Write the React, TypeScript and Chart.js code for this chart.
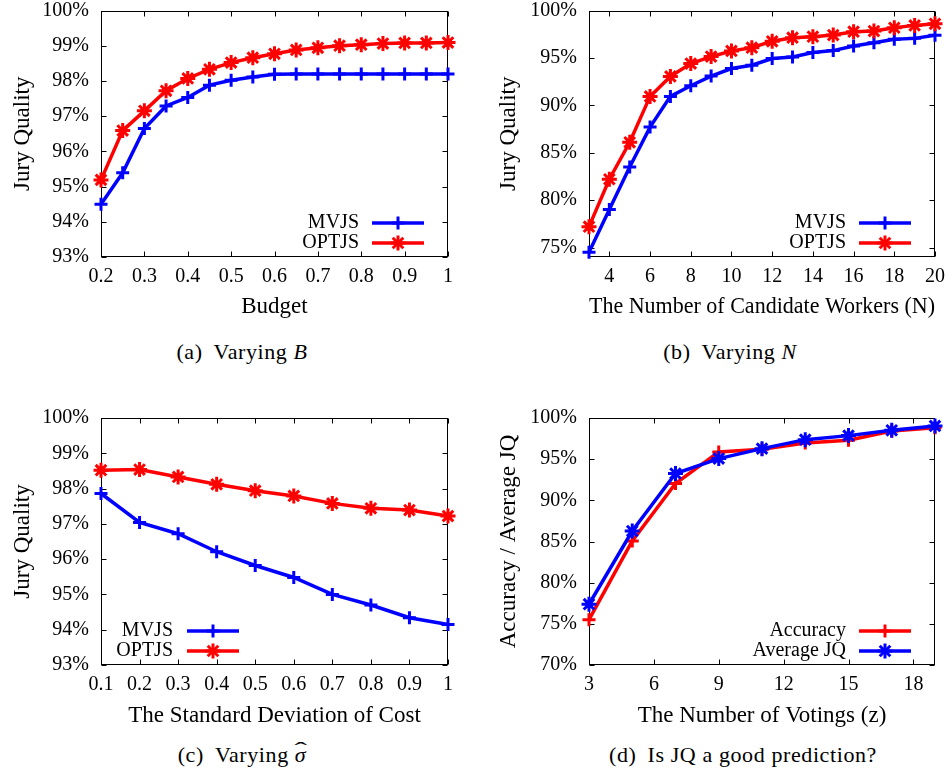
import React, { useEffect, useRef } from 'react';
import { Chart, registerables } from 'chart.js';

Chart.register(...registerables);

// (a) Jury quality against budget
const budgetLevels = [0.2, 0.25, 0.3, 0.35, 0.4, 0.45, 0.5, 0.55, 0.6, 0.65, 0.7, 0.75, 0.8, 0.85, 0.9, 0.95, 1];
const mvjsByBudget = [94.5, 95.39, 96.65, 97.29, 97.53, 97.88, 98.02, 98.11, 98.19, 98.2, 98.2, 98.2, 98.2, 98.2, 98.2, 98.2, 98.2];
const optjsByBudget = [95.19, 96.59, 97.15, 97.72, 98.07, 98.33, 98.52, 98.66, 98.77, 98.88, 98.94, 99.0, 99.03, 99.06, 99.08, 99.08, 99.09];
const budgetTicks = [0.2, 0.3, 0.4, 0.5, 0.6, 0.7, 0.8, 0.9, 1];
const narrowQualityTicks = [93, 94, 95, 96, 97, 98, 99, 100];

// (b) Jury quality against the number of candidate workers
const workerCounts = [3, 4, 5, 6, 7, 8, 9, 10, 11, 12, 13, 14, 15, 16, 17, 18, 19, 20];
const mvjsByWorkers = [74.5, 79.0, 83.5, 87.7, 90.94, 92.06, 93.08, 93.88, 94.23, 94.93, 95.1, 95.56, 95.77, 96.26, 96.6, 96.96, 97.06, 97.38];
const optjsByWorkers = [77.2, 82.2, 86.1, 90.94, 93.04, 94.4, 95.14, 95.73, 96.08, 96.75, 97.13, 97.24, 97.41, 97.76, 97.83, 98.18, 98.43, 98.6];
const workerTicks = [4, 6, 8, 10, 12, 14, 16, 18, 20];
const wideQualityTicks = [75, 80, 85, 90, 95, 100];

// (c) Jury quality against the standard deviation of cost
const costDeviations = [0.1, 0.2, 0.3, 0.4, 0.5, 0.6, 0.7, 0.8, 0.9, 1];
const mvjsByDeviation = [97.86, 97.04, 96.72, 96.21, 95.82, 95.48, 95.0, 94.7, 94.34, 94.15];
const optjsByDeviation = [98.52, 98.54, 98.33, 98.12, 97.94, 97.79, 97.58, 97.44, 97.39, 97.22];
const deviationTicks = [0.1, 0.2, 0.3, 0.4, 0.5, 0.6, 0.7, 0.8, 0.9, 1];

// (d) Accuracy and average JQ against the number of votings
const votingCounts = [3, 5, 7, 9, 11, 13, 15, 17, 19];
const accuracyByVotings = [75.5, 85.06, 92.04, 95.88, 96.2, 96.97, 97.29, 98.42, 98.83];
const averageJqByVotings = [77.38, 86.27, 93.26, 95.07, 96.28, 97.37, 97.86, 98.5, 99.03];
const votingTicks = [3, 6, 9, 12, 15, 18];
const accuracyTicks = [70, 75, 80, 85, 90, 95, 100];

const SERIF = '"Liberation Serif", "Times New Roman", serif';
const BLUE = '#0000ff';
const RED = '#ff0000';

type Marker = 'cross' | 'star';
type Series = { label: string; xs: number[]; ys: number[]; color: string; marker: Marker };
type PanelSpec = {
  left: number;
  top: number;
  width: number;
  height: number;
  area: { left: number; top: number; right: number; bottom: number };
  xMin: number;
  xMax: number;
  xTicks: number[];
  yMin: number;
  yMax: number;
  yTicks: number[];
  xTitle: string;
  yTitle: string;
  xTitlePad: number;
  yTitlePad: number;
  keySide: 'left' | 'right';
  series: Series[];
};

function strokeLine(ctx: CanvasRenderingContext2D, x0: number, y0: number, x1: number, y1: number) {
  ctx.beginPath();
  ctx.moveTo(x0, y0);
  ctx.lineTo(x1, y1);
  ctx.stroke();
}

function drawMarker(ctx: CanvasRenderingContext2D, marker: Marker, cx: number, cy: number, r: number) {
  strokeLine(ctx, cx - r, cy, cx + r, cy);
  strokeLine(ctx, cx, cy - r, cx, cy + r);
  if (marker === 'star') {
    const d = r * Math.SQRT1_2;
    strokeLine(ctx, cx - d, cy - d, cx + d, cy + d);
    strokeLine(ctx, cx - d, cy + d, cx + d, cy - d);
  }
}

// Plot frame with inward tick marks on all four sides
const framePlugin = {
  id: 'plotFrame',
  beforeDatasetsDraw(chart: any) {
    const { ctx, chartArea: a, scales } = chart;
    const L = Math.round(a.left) + 0.5;
    const R = Math.round(a.right) - 0.5;
    const T = Math.round(a.top) + 0.5;
    const B = Math.round(a.bottom) - 0.5;
    const len = 5;
    ctx.save();
    ctx.strokeStyle = '#000';
    ctx.lineWidth = 1;
    ctx.strokeRect(L, T, R - L, B - T);
    for (const t of scales.x.ticks) {
      const px = Math.round(scales.x.getPixelForValue(t.value)) + 0.5;
      strokeLine(ctx, px, B, px, B - len);
      strokeLine(ctx, px, T, px, T + len);
    }
    for (const t of scales.y.ticks) {
      const py = Math.round(scales.y.getPixelForValue(t.value)) + 0.5;
      strokeLine(ctx, L, py, L + len, py);
      strokeLine(ctx, R, py, R - len, py);
    }
    ctx.restore();
  },
};

// Key inside the plot: label text followed by a line sample with its marker
const keyPlugin = {
  id: 'seriesKey',
  afterDraw(chart: any, _args: any, opts: any) {
    const { ctx, chartArea: a } = chart;
    const side = opts.side || 'right';
    const textX = side === 'right' ? a.right - 89 : a.left + 72;
    const x0 = side === 'right' ? a.right - 76 : a.left + 86;
    const x1 = x0 + 52;
    ctx.save();
    chart.data.datasets.forEach((ds: any, i: number) => {
      const y = a.bottom - 34 + i * 20;
      ctx.font = `20px ${SERIF}`;
      ctx.fillStyle = '#000';
      ctx.textAlign = 'right';
      ctx.textBaseline = 'middle';
      ctx.fillText(ds.label, textX, y);
      ctx.strokeStyle = ds.borderColor;
      ctx.lineWidth = 3.5;
      strokeLine(ctx, x0, y, x1, y);
      ctx.lineWidth = ds.pointBorderWidth;
      drawMarker(ctx, ds.pointStyle, (x0 + x1) / 2, y, ds.pointRadius);
    });
    ctx.restore();
  },
};

function formatNumber(v: number) {
  return String(Math.round(v * 100) / 100);
}

function Panel({ spec }: { spec: PanelSpec }) {
  const ref = useRef<HTMLCanvasElement | null>(null);

  useEffect(() => {
    if (!ref.current) return;
    const { area, width, height } = spec;
    const chart = new Chart(ref.current, {
      type: 'line',
      data: {
        datasets: spec.series.map((s, i) => ({
          label: s.label,
          data: s.xs.map((x, j) => ({ x, y: s.ys[j] })),
          borderColor: s.color,
          backgroundColor: s.color,
          borderWidth: 3.5,
          pointStyle: s.marker,
          pointRadius: s.marker === 'star' ? 7.5 : 6.5,
          pointHoverRadius: s.marker === 'star' ? 7.5 : 6.5,
          pointBorderWidth: 3,
          pointBorderColor: s.color,
          tension: 0,
          clip: false,
          order: spec.series.length - i,
        })),
      },
      options: {
        animation: false,
        responsive: false,
        devicePixelRatio: 1,
        events: [],
        layout: { padding: { left: 0, top: area.top, right: width - area.right, bottom: 0 } },
        plugins: {
          legend: { display: false },
          tooltip: { enabled: false },
          seriesKey: { side: spec.keySide },
        } as any,
        scales: {
          x: {
            type: 'linear',
            min: spec.xMin,
            max: spec.xMax,
            grid: { display: false, drawTicks: false },
            border: { display: false },
            ticks: {
              padding: 8,
              color: '#000',
              maxRotation: 0,
              autoSkip: false,
              font: { family: SERIF, size: 20 },
              callback: (v: any) => formatNumber(Number(v)),
            },
            title: {
              display: true,
              text: spec.xTitle,
              color: '#000',
              font: { family: SERIF, size: 23 },
              padding: { top: 0, bottom: spec.xTitlePad },
            },
            afterBuildTicks: (s: any) => {
              s.ticks = spec.xTicks.map((value) => ({ value }));
            },
            afterFit: (s: any) => {
              s.height = height - area.bottom;
              s.paddingLeft = 0;
              s.paddingRight = 0;
              s.paddingTop = 0;
              s.paddingBottom = 0;
            },
          },
          y: {
            type: 'linear',
            min: spec.yMin,
            max: spec.yMax,
            grid: { display: false, drawTicks: false },
            border: { display: false },
            ticks: {
              padding: 12,
              color: '#000',
              autoSkip: false,
              font: { family: SERIF, size: 20 },
              callback: (v: any) => `${formatNumber(Number(v))}%`,
            },
            title: {
              display: true,
              text: spec.yTitle,
              color: '#000',
              font: { family: SERIF, size: 23 },
              padding: { top: spec.yTitlePad, bottom: 0 },
            },
            afterBuildTicks: (s: any) => {
              s.ticks = spec.yTicks.map((value) => ({ value }));
            },
            afterFit: (s: any) => {
              s.width = area.left;
              s.paddingLeft = 0;
              s.paddingRight = 0;
              s.paddingTop = 0;
              s.paddingBottom = 0;
            },
          },
        },
      },
      plugins: [framePlugin, keyPlugin],
    } as any);
    return () => chart.destroy();
  }, [spec]);

  return (
    <canvas
      ref={ref}
      width={spec.width}
      height={spec.height}
      style={{ position: 'absolute', left: spec.left, top: spec.top, width: spec.width, height: spec.height }}
    />
  );
}

const panels: PanelSpec[] = [
  {
    left: 0, top: 0, width: 475, height: 335,
    area: { left: 101, top: 9, right: 448, bottom: 257 },
    xMin: 0.2, xMax: 1, xTicks: budgetTicks,
    yMin: 93, yMax: 100, yTicks: narrowQualityTicks,
    xTitle: 'Budget', yTitle: 'Jury Quality', xTitlePad: 14, yTitlePad: 9,
    keySide: 'right',
    series: [
      { label: 'MVJS', xs: budgetLevels, ys: mvjsByBudget, color: BLUE, marker: 'cross' },
      { label: 'OPTJS', xs: budgetLevels, ys: optjsByBudget, color: RED, marker: 'star' },
    ],
  },
  {
    left: 475, top: 0, width: 476, height: 335,
    area: { left: 114, top: 9, right: 460, bottom: 257 },
    xMin: 3, xMax: 20, xTicks: workerTicks,
    yMin: 74, yMax: 100, yTicks: wideQualityTicks,
    xTitle: 'The Number of Candidate Workers (N)', yTitle: 'Jury Quality', xTitlePad: 14, yTitlePad: 20,
    keySide: 'right',
    series: [
      { label: 'MVJS', xs: workerCounts, ys: mvjsByWorkers, color: BLUE, marker: 'cross' },
      { label: 'OPTJS', xs: workerCounts, ys: optjsByWorkers, color: RED, marker: 'star' },
    ],
  },
  {
    left: 0, top: 390, width: 475, height: 345,
    area: { left: 101, top: 28, right: 448, bottom: 275 },
    xMin: 0.1, xMax: 1, xTicks: deviationTicks,
    yMin: 93, yMax: 100, yTicks: narrowQualityTicks,
    xTitle: 'The Standard Deviation of Cost', yTitle: 'Jury Quality', xTitlePad: 5, yTitlePad: 9,
    keySide: 'left',
    series: [
      { label: 'MVJS', xs: costDeviations, ys: mvjsByDeviation, color: BLUE, marker: 'cross' },
      { label: 'OPTJS', xs: costDeviations, ys: optjsByDeviation, color: RED, marker: 'star' },
    ],
  },
  {
    left: 475, top: 390, width: 476, height: 345,
    area: { left: 114, top: 28, right: 460, bottom: 275 },
    xMin: 3, xMax: 19, xTicks: votingTicks,
    yMin: 70, yMax: 100, yTicks: accuracyTicks,
    xTitle: 'The Number of Votings (z)', yTitle: 'Accuracy / Average JQ', xTitlePad: 5, yTitlePad: 20,
    keySide: 'right',
    series: [
      { label: 'Accuracy', xs: votingCounts, ys: accuracyByVotings, color: RED, marker: 'cross' },
      { label: 'Average JQ', xs: votingCounts, ys: averageJqByVotings, color: BLUE, marker: 'star' },
    ],
  },
];

function Caption({ cx, cy, tag, children }: { cx: number; cy: number; tag: string; children: React.ReactNode }) {
  return (
    <div
      style={{
        position: 'absolute',
        left: cx - 200,
        top: cy - 13,
        width: 400,
        textAlign: 'center',
        fontFamily: SERIF,
        fontSize: 22,
        lineHeight: '26px',
        letterSpacing: 0.6,
        color: '#000',
        whiteSpace: 'nowrap',
      }}
    >
      <span>{tag}</span>
      <span style={{ marginLeft: 11 }}>{children}</span>
    </div>
  );
}

// Sigma with a wide hat set above it
function SigmaHat() {
  return (
    <span style={{ position: 'relative', display: 'inline-block' }}>
      <i>σ</i>
      <span
        style={{
          position: 'absolute',
          left: 0,
          right: 0,
          top: -5,
          textAlign: 'center',
          fontStyle: 'normal',
          transform: 'scaleX(1.7)',
          letterSpacing: 0,
        }}
      >
        ˆ
      </span>
    </span>
  );
}

export default function App() {
  return (
    <div style={{ position: 'absolute', left: 0, top: 0, width: 951, height: 778, background: '#fff', overflow: 'hidden' }}>
      {panels.map((p, i) => (
        <Panel key={i} spec={p} />
      ))}
      <Caption cx={242} cy={352} tag="(a)">
        Varying <i>B</i>
      </Caption>
      <Caption cx={730} cy={352} tag="(b)">
        Varying <i>N</i>
      </Caption>
      <Caption cx={242} cy={755} tag="(c)">
        Varying <SigmaHat />
      </Caption>
      <Caption cx={743} cy={755} tag="(d)">
        Is JQ a good prediction?
      </Caption>
    </div>
  );
}
